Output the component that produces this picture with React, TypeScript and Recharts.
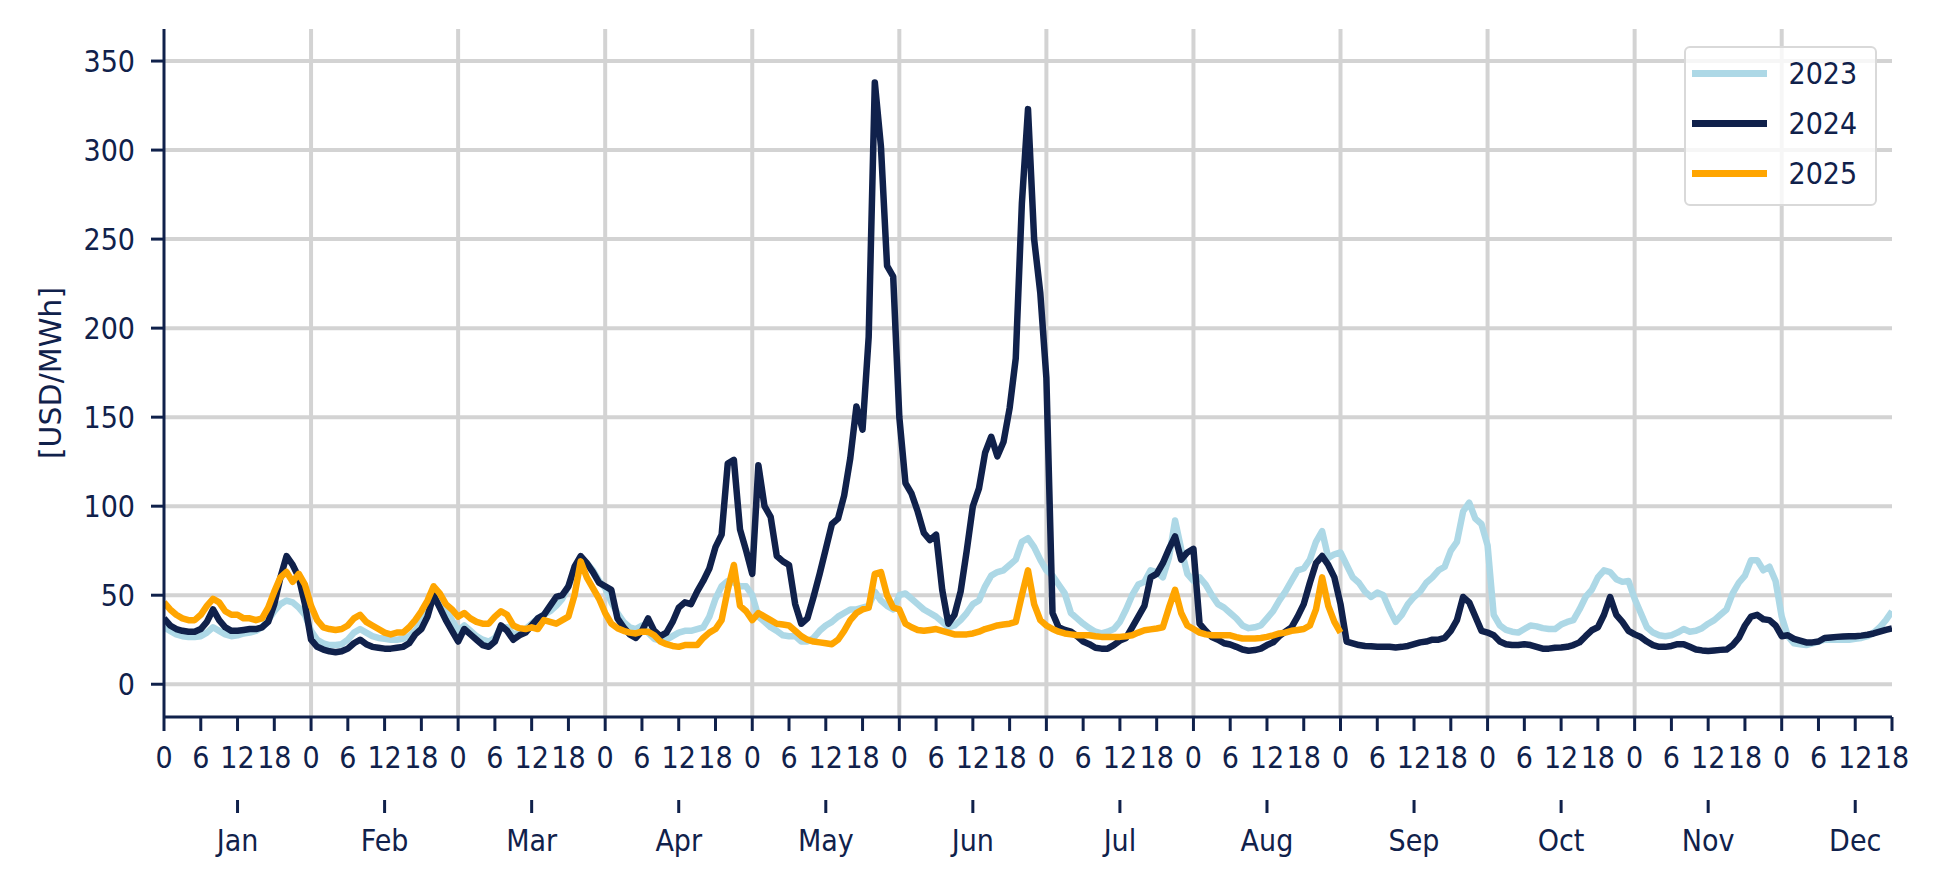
import React from 'react';
import { LineChart, Line, XAxis, YAxis, CartesianGrid, Legend } from 'recharts';

const MONTHS = ['Jan', 'Feb', 'Mar', 'Apr', 'May', 'Jun', 'Jul', 'Aug', 'Sep', 'Oct', 'Nov', 'Dec'];
const LAST_INDEX = 282; // Dec, hour 18
const Y_TICKS = [0, 50, 100, 150, 200, 250, 300, 350];

// hourly profile per month, 24 values per month (Dec ends at hour 18)
const P2023 = [
  32, 30, 28, 27, 26.5, 26.5, 27, 29, 32, 30, 28, 27, 27.5, 28.5, 29, 30, 32, 36, 41, 45, 47, 46, 43, 39,
  30, 25, 23, 22, 22, 22.5, 25, 29, 31, 29, 27, 26, 25.5, 25, 25, 25.5, 27, 30, 35, 42, 51, 48, 42, 36,
  30, 33, 30, 27, 25, 24, 26, 32, 32, 28, 29, 31, 34, 37, 39, 41, 44, 48, 55, 63, 68, 68, 64, 58,
  54, 46, 40, 35, 32, 31, 33, 29, 25.5, 24.5, 25, 27, 29, 30, 30, 31, 32, 38, 48, 55, 58, 57, 55, 55,
  50, 38, 35, 32, 30, 27.5, 27, 27, 24, 24, 26, 30, 33, 35, 38, 40, 42, 42, 43, 44, 52, 47, 44, 42,
  50, 51, 48, 45, 42, 40, 38, 35, 32, 33, 36, 40, 45, 47, 55, 61, 63, 64, 67, 70, 80, 82, 77, 70,
  64, 61, 56, 51, 40, 37, 34, 31.5, 29.5, 28.5, 29.5, 31, 35, 42, 50, 56, 57.5, 64, 63, 60, 71, 92, 76, 62,
  58, 60, 56, 50, 45, 43, 40, 37, 33, 31.5, 32, 33, 37, 41, 47, 52, 58, 64, 65, 70, 80, 86, 71, 73,
  74, 67, 60, 57, 52, 49, 51.5, 50, 42, 35, 39, 45, 49, 52, 57, 60, 64, 66, 75, 80, 97, 102, 93, 90,
  78, 39, 33, 30.5, 29.5, 29, 31, 33, 32.5, 31.5, 31, 31, 33.5, 35, 36, 42, 49, 53, 60, 64, 63, 59, 57.5, 58,
  48, 40, 32, 29, 27.5, 27, 27.5, 29, 31, 29.5, 30, 31.5, 34, 36, 39, 42, 51, 57, 61, 69.7, 69.7, 64, 66, 58,
  38, 27, 23, 22.5, 22, 23, 24, 25, 25, 25, 25, 25, 25.5, 26, 27, 29, 32, 36, 41,
];

const P2024 = [
  37, 33, 31, 30, 29.5, 29.5, 31, 35, 42, 36, 32, 30, 30, 30.5, 31, 31, 32, 35, 45, 60, 72, 67, 60, 45,
  25, 21, 19.5, 18.5, 18, 18.5, 20, 23, 25, 22.5, 21, 20.5, 20, 20, 20.5, 21, 23, 28, 31, 38, 50, 43, 36, 30,
  24, 31, 28, 25, 22, 21, 24, 33, 30, 25, 27.5, 29, 33, 37, 39, 44, 49, 50, 55, 66, 72, 68, 63, 57,
  55, 53, 37, 32, 28, 26, 30, 37, 30, 27, 29, 35, 43, 46, 45, 52, 58, 65, 77, 84, 124, 126, 87, 75,
  62, 123, 100, 94, 72, 69, 67, 45, 34, 37, 49, 62, 76, 90, 93, 106, 127, 156, 143, 195, 338, 302, 235, 229,
  150, 113, 107, 97, 85, 81, 84, 53, 34, 39, 52, 75, 100, 110, 130, 139, 128, 136, 155, 183, 270, 323, 250, 220,
  172, 40, 32, 30.5, 29.5, 27, 24, 22.5, 20.5, 20, 20, 22, 24.5, 26, 32, 38, 44, 60, 62, 68, 76, 83, 70, 74,
  76, 34, 30, 26.5, 25, 23, 22.3, 21, 19.5, 18.8, 19.2, 20, 22, 23.5, 27, 29.5, 32, 38, 45, 57, 68, 72, 67, 60,
  45, 24, 23, 22, 21.5, 21.3, 21, 21, 21, 20.6, 21, 21.5, 22.5, 23.5, 24, 25, 25, 26, 30, 36, 49, 46, 38, 30,
  29, 27.5, 24, 22.5, 22, 22, 22.5, 22, 21, 20, 20, 20.5, 20.6, 21, 22, 23.5, 27, 30.3, 32, 39, 49, 39, 35, 30,
  28, 26.5, 24, 22, 21, 21, 21.5, 22.5, 22.5, 21, 19.5, 19, 18.7, 19, 19.3, 19.5, 22, 26, 33, 38, 39, 36.5, 36, 33,
  27, 27.5, 25.5, 24.5, 23.5, 23.5, 24, 26, 26.3, 26.6, 26.8, 27, 27, 27.3, 27.8, 28.5, 29.5, 30.5, 31.3,
];

const P2025 = [
  46, 42, 39, 37, 36, 36, 39, 44, 48, 46, 41, 39, 39, 37, 37, 36, 37, 43, 52, 60, 63, 57.5, 62, 56,
  44, 36, 32, 31, 30.5, 31, 33, 37, 39, 35, 33, 31, 29, 28, 29, 29, 32, 36, 41, 47, 55, 51, 45, 42,
  38, 40, 37, 35, 34, 34, 38, 41, 39, 33, 31.5, 31, 32, 31, 36, 35, 34, 36, 38, 50, 69, 60, 54, 48,
  40, 34, 31.5, 30, 29, 28.5, 29.5, 29.5, 27.5, 24, 22.5, 21.5, 21, 22, 22, 22, 26, 29, 31, 36, 53, 67, 44, 41,
  36, 40, 38, 36, 34, 33.5, 33, 30, 27, 25, 24, 23.5, 23, 22.5, 25, 30, 36, 40, 42, 43, 62, 63, 50, 43,
  42, 34, 32, 30.5, 30, 30.5, 31, 30, 29, 28, 28, 28, 28.5, 29.5, 31, 32, 33, 33.5, 34, 35, 50, 64, 45, 36,
  33, 31, 29.5, 28.5, 28, 27.5, 27.5, 27.5, 27, 26.6, 26.6, 26.6, 26.6, 27, 27.5, 29, 30.3, 30.8, 31.3, 32, 43, 53, 40, 33,
  31, 29, 28, 27.5, 27.5, 27.5, 27.5, 26.5, 25.7, 25.7, 25.7, 26, 26.6, 27.5, 28.5, 29, 30, 30.5, 31, 33, 42, 60, 44, 35,
  29,
];

const SERIES = [
  { key: 'y2023', name: '2023', color: '#add8e6', values: P2023 },
  { key: 'y2024', name: '2024', color: '#10214b', values: P2024 },
  { key: 'y2025', name: '2025', color: '#ffa500', values: P2025 },
];

const NAVY = '#10214b';
const FONT = "'DejaVu Sans Condensed', 'DejaVu Sans', sans-serif";
const LABEL_FONT = "'DejaVu Sans', sans-serif";
const FONT_SIZE = 30;

const data = Array.from({ length: LAST_INDEX + 1 }, (_, i) => {
  const row: Record<string, number | null> = { idx: i };
  SERIES.forEach((s) => {
    row[s.key] = i < s.values.length ? s.values[i] : null;
  });
  return row;
});

const hourTicks: number[] = [];
for (let t = 0; t <= LAST_INDEX; t += 6) hourTicks.push(t);
const monthTicks = MONTHS.map((_, m) => m * 24 + 12);
const monthBoundaries = MONTHS.slice(1).map((_, m) => (m + 1) * 24);

const tickStyle = { fill: NAVY, fontSize: FONT_SIZE, fontFamily: FONT };

const renderLegend = (props: any) => {
  const payload = props.payload || [];
  return (
    <div
      style={{
        position: 'relative',
        width: 193,
        height: 160,
        boxSizing: 'border-box',
        border: '2.5px solid #d9d9d9',
        borderRadius: 6,
        background: 'rgba(255,255,255,0.8)',
      }}
    >
      {payload.map((entry: any, i: number) => (
        <div
          key={entry.value}
          style={{
            position: 'absolute',
            left: 0,
            top: 25.5 + i * 50 - 20,
            height: 40,
            display: 'flex',
            alignItems: 'center',
          }}
        >
          <div style={{ marginLeft: 5.5, width: 75, height: 7, background: entry.color }} />
          <span
            style={{
              marginLeft: 22,
              fontSize: FONT_SIZE,
              fontFamily: FONT,
              color: NAVY,
              lineHeight: '40px',
            }}
          >
            {entry.value}
          </span>
        </div>
      ))}
    </div>
  );
};

const YLabel = (props: any) => {
  const vb = props.viewBox || { x: 0, y: 29, width: 164, height: 688 };
  const cx = vb.x + 50;
  const cy = vb.y + vb.height / 2;
  return (
    <text
      x={cx}
      y={cy}
      transform={`rotate(-90 ${cx} ${cy})`}
      textAnchor="middle"
      dominantBaseline="central"
      fill={NAVY}
      fontSize={FONT_SIZE}
      fontFamily={LABEL_FONT}
    >
      [USD/MWh]
    </text>
  );
};

export default function App() {
  return (
    <div style={{ position: 'absolute', left: 0, top: 0, width: 1940, height: 891, background: '#ffffff' }}>
      <LineChart width={1940} height={891} data={data} margin={{ top: 29, right: 48, bottom: 0, left: 0 }}>
        <CartesianGrid
          xAxisId="hours"
          stroke="#d3d3d3"
          strokeWidth={4}
          verticalValues={monthBoundaries}
          horizontalValues={Y_TICKS}
        />
        <XAxis
          xAxisId="hours"
          dataKey="idx"
          type="number"
          domain={[0, LAST_INDEX]}
          allowDataOverflow
          ticks={hourTicks}
          interval={0}
          tickFormatter={(v: number) => String(v % 24)}
          height={83}
          tickSize={14}
          tickMargin={16}
          axisLine={{ stroke: NAVY, strokeWidth: 3 }}
          tickLine={{ stroke: NAVY, strokeWidth: 3 }}
          tick={tickStyle}
        />
        <XAxis
          xAxisId="months"
          dataKey="idx"
          type="number"
          domain={[0, LAST_INDEX]}
          allowDataOverflow
          ticks={monthTicks}
          interval={0}
          tickFormatter={(v: number) => MONTHS[Math.floor(v / 24)]}
          height={91}
          tickSize={13}
          tickMargin={17}
          axisLine={false}
          tickLine={{ stroke: NAVY, strokeWidth: 3 }}
          tick={tickStyle}
        />
        <YAxis
          type="number"
          domain={[-18.4, 368]}
          allowDataOverflow
          ticks={Y_TICKS}
          interval={0}
          width={164}
          tickSize={13}
          tickMargin={16}
          axisLine={{ stroke: NAVY, strokeWidth: 3 }}
          tickLine={{ stroke: NAVY, strokeWidth: 3 }}
          tick={tickStyle}
          label={<YLabel />}
        />
        {SERIES.map((s) => (
          <Line
            key={s.key}
            xAxisId="hours"
            type="linear"
            dataKey={s.key}
            name={s.name}
            stroke={s.color}
            strokeWidth={6.5}
            strokeLinejoin="round"
            dot={false}
            activeDot={false}
            isAnimationActive={false}
          />
        ))}
        <Legend
          layout="horizontal"
          verticalAlign="middle"
          align="center"
          content={renderLegend}
          wrapperStyle={{ position: 'absolute', left: 1684, top: 46, width: 193, height: 160 }}
        />
      </LineChart>
    </div>
  );
}
